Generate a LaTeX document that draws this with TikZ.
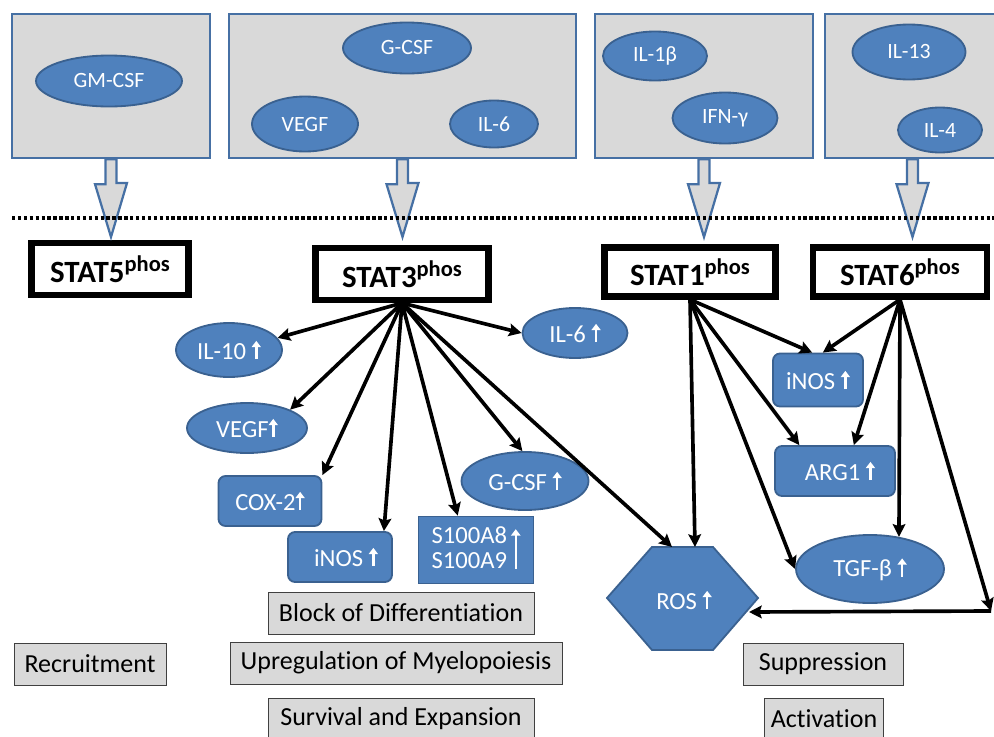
\documentclass[tikz,border=0pt]{standalone}
\usepackage{fontspec}
\setmainfont[Ligatures=NoCommon]{Carlito}
\usepackage{tikz}
\usetikzlibrary{shapes.geometric,arrows.meta}

\newdimen\pxu \pxu=0.025cm
\definecolor{cellblue}{HTML}{4F81BD}
\definecolor{cellline}{HTML}{3A6190}
\definecolor{boxgray}{HTML}{D9D9D9}
\definecolor{boxline}{HTML}{4670A4}

% small white "up" arrow used inside the blue shapes
\newcommand{\uparr}[1][13]{\tikz[baseline=0pt,x=1pt,y=1pt]\draw[white,line width=1.8pt,-{Triangle[length=4.5pt,width=6.5pt]}] (0,0) -- (0,#1);}
\newcommand{\phos}{{\fontsize{16}{16}\selectfont\raisebox{8pt}{phos}}}

\begin{document}
\begin{tikzpicture}[x=\pxu,y=-\pxu,
  source/.style={draw=boxline,fill=boxgray,line width=1.6pt,inner sep=0pt},
  cyto/.style={ellipse,draw=cellline,fill=cellblue,line width=1.3pt,text=white,inner sep=0pt,font=\fontsize{15.5}{18}\selectfont},
  product/.style={ellipse,draw=cellline,fill=cellblue,line width=1.3pt,text=white,inner sep=0pt,font=\fontsize{17.5}{21}\selectfont},
  gene/.style={rectangle,rounded corners=5pt,draw=cellline,fill=cellblue,line width=1.3pt,text=white,inner sep=0pt,font=\fontsize{17.5}{21}\selectfont},
  statbox/.style={draw=black,fill=white,line width=4.3pt,inner sep=0pt,font=\bfseries\fontsize{22}{26}\selectfont},
  effect/.style={draw=black!75,fill=boxgray,line width=0.7pt,inner sep=0pt,minimum height=42\pxu,font=\fontsize{18.5}{22}\selectfont},
  hollow/.style={draw=boxline,fill=boxgray,line width=1.6pt,line join=miter},
  sig/.style={line width=2.6pt,-{Stealth[length=9pt,width=9pt,inset=1.5pt]}}]

  \useasboundingbox (0,0) rectangle (994,737);

  % cytokine sources
  \node[source,minimum width=198\pxu,minimum height=144\pxu] (box5) at (111,86) {};
  \node[source,minimum width=347\pxu,minimum height=144\pxu] (box3) at (402.5,86) {};
  \node[source,minimum width=218\pxu,minimum height=144\pxu] (box1) at (704,86) {};
  \node[source,minimum width=175\pxu,minimum height=144\pxu] (box6) at (912.5,86) {};

  \node[cyto,minimum width=146\pxu,minimum height=51\pxu] (gmcsf) at (109,81) {GM-CSF};
  \node[cyto,minimum width=128\pxu,minimum height=51\pxu] (gcsf) at (407,48) {G-CSF};
  \node[cyto,minimum width=106\pxu,minimum height=55\pxu] (vegf) at (305,124) {VEGF};
  \node[cyto,minimum width=88\pxu,minimum height=47\pxu] (il6) at (494,124) {IL-6};
  \node[cyto,minimum width=104\pxu,minimum height=49\pxu] (il1b) at (655,56) {IL-1β};
  \node[cyto,minimum width=105\pxu,minimum height=51\pxu] (ifng) at (725,118) {IFN-γ};
  \node[cyto,minimum width=113\pxu,minimum height=55\pxu] (il13) at (909,52) {IL-13};
  \node[cyto,minimum width=84\pxu,minimum height=45\pxu] (il4) at (940,130) {IL-4};

  % STAT nodes
  \node[statbox,minimum width=157\pxu,minimum height=52\pxu] (stat5) at (110,269) {STAT5\phos};
  \node[statbox,minimum width=173\pxu,minimum height=52\pxu] (stat3) at (402,274) {STAT3\phos};
  \node[statbox,minimum width=171\pxu,minimum height=49\pxu] (stat1) at (690,272) {STAT1\phos};
  \node[statbox,minimum width=174\pxu,minimum height=49\pxu] (stat6) at (900,272) {STAT6\phos};

  % block arrows from the sources
  \draw[hollow] ([xshift=-5.5\pxu]box5.south) -- ++(0,25) -- ++(-10.5,0) -- (box5.south |- 0,237) -- ++(16,-54) -- ++(-10.5,0) -- ([xshift=5.5\pxu]box5.south) -- cycle;
  \draw[hollow] ([xshift=-5.5\pxu]box3.south) -- ++(0,25) -- ++(-10.5,0) -- (box3.south |- 0,237) -- ++(16,-54) -- ++(-10.5,0) -- ([xshift=5.5\pxu]box3.south) -- cycle;
  \draw[hollow] ([xshift=-5.5\pxu]box1.south) -- ++(0,25) -- ++(-10.5,0) -- (box1.south |- 0,237) -- ++(16,-54) -- ++(-10.5,0) -- ([xshift=5.5\pxu]box1.south) -- cycle;
  \draw[hollow] ([xshift=-5.5\pxu]box6.south) -- ++(0,25) -- ++(-10.5,0) -- (box6.south |- 0,237) -- ++(16,-54) -- ++(-10.5,0) -- ([xshift=5.5\pxu]box6.south) -- cycle;

  % membrane
  \draw[line width=2.6pt,dash pattern=on 2.4pt off 1.8pt] (12,218) -- (994,218);

  % STAT3 targets
  \node[product,minimum width=106\pxu,minimum height=54\pxu] (il10up) at (229,350) {IL-10 \uparr};
  \node[product,minimum width=120\pxu,minimum height=50\pxu] (vegfup) at (247,428) {VEGF\uparr};
  \node[gene,minimum width=103\pxu,minimum height=50\pxu] (cox2) at (270,501) {COX-2\uparr};
  \node[gene,minimum width=104\pxu,minimum height=50\pxu] (inosa) at (340,557) {\hspace{12\pxu}iNOS \uparr};
  \node[gene,rounded corners=0pt,minimum width=115\pxu,minimum height=67\pxu] (s100) at (476,550)
    {\begin{tabular}[b]{@{}c@{}}S100A8\\[-3pt]S100A9\end{tabular}\,\uparr[28]};
  \node[product,minimum width=127\pxu,minimum height=58\pxu] (gcsfup) at (525,481) {G-CSF \uparr};
  \node[product,minimum width=105\pxu,minimum height=50\pxu] (il6up) at (575,333) {IL-6 \uparr};

  % STAT1 / STAT6 targets
  \node[gene,minimum width=90\pxu,minimum height=53\pxu] (inosb) at (818,380) {iNOS \uparr};
  \node[gene,minimum width=120\pxu,minimum height=50\pxu] (arg1) at (835,471) {\hspace{10\pxu}ARG1 \uparr};
  \node[product,minimum width=148\pxu,minimum height=68\pxu] (tgfb) at (870,569) {TGF-β \uparr};

  % ROS hexagon
  \draw[draw=cellline,fill=cellblue,line width=1.3pt] (607,598) -- (652,547) -- (713,547) -- (758,598) -- (713,650) -- (652,650) -- cycle;
  \node[text=white,font=\fontsize{17.5}{21}\selectfont] (ros) at (684,600) {ROS \uparr};
  \coordinate (rosa) at (672,547);
  \coordinate (rosb) at (695,547);
  \coordinate (rosc) at (749,612);
  \coordinate (turn) at (991,611);

  % arrows from STAT3
  \draw[sig] (stat3.south) -- (il10up.14);
  \draw[sig] (stat3.south) -- (vegfup.23);
  \draw[sig] (stat3.south) -- (cox2.north east);
  \draw[sig] (stat3.south) -- ([xshift=-9\pxu]inosa.north east);
  \draw[sig] (stat3.south) -- (s100.118);
  \draw[sig] (stat3.south) -- (gcsfup.95);
  \draw[sig] (stat3.south) -- (il6up.west);
  \draw[sig] (stat3.south) -- (rosa);

  % arrows from STAT1
  \draw[sig] (stat1.south) -- (rosb);
  \draw[sig] (stat1.south) -- (inosb.102);
  \draw[sig] (stat1.south) -- (arg1.144);
  \draw[sig] (stat1.south) -- (tgfb.west);

  % arrows from STAT6
  \draw[sig] (stat6.south) -- (inosb.80);
  \draw[sig] (stat6.south) -- (arg1.54);
  \draw[sig] (stat6.south) -- (tgfb.48);
  \draw[sig] (stat6.south) -- (turn);
  \draw[sig] (turn) -- (rosc);

  % effects
  \node[effect,minimum width=266\pxu] (block) at (401,613) {Block of Differentiation};
  \node[effect,minimum width=152\pxu] (recruit) at (90,664) {Recruitment};
  \node[effect,minimum width=332\pxu] (upreg) at (396,663) {Upregulation of Myelopoiesis};
  \node[effect,minimum width=266\pxu] (survive) at (401,719) {Survival and Expansion};
  \node[effect,minimum width=160\pxu] (suppress) at (823,664) {Suppression};
  \node[effect,minimum width=119\pxu] (activ) at (824,719) {Activation};

\end{tikzpicture}
\end{document}
